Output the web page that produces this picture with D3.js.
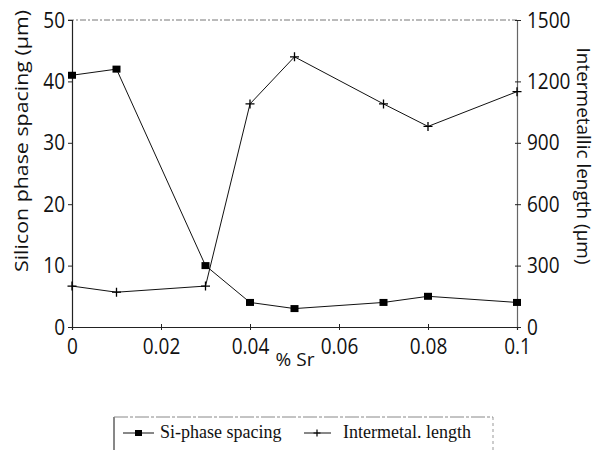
<!DOCTYPE html>
<html>
<head>
<meta charset="utf-8">
<script src="https://cdn.jsdelivr.net/npm/d3@7"></script>
<style>
  body { margin: 0; background: #fff; }
  text { fill: #111; }
</style>
</head>
<body>
<svg width="600" height="450"></svg>
<script>
// % Sr values
var sr = [0, 0.01, 0.03, 0.04, 0.05, 0.07, 0.08, 0.1];
// Silicon phase spacing (um), left axis
var siSpacing = [41, 42, 10, 4, 3, 4, 5, 4];
// Intermetallic length (um), right axis
var interLength = [200, 170, 200, 1090, 1320, 1090, 980, 1150];

var xTicks = [0, 0.02, 0.04, 0.06, 0.08, 0.1];
var xTickLabels = ["0", "0.02", "0.04", "0.06", "0.08", "0.1"];
var leftTicks = [0, 10, 20, 30, 40, 50];
var rightTicks = [0, 300, 600, 900, 1200, 1500];

var svg = d3.select("svg");
var plotL = 72, plotR = 517, plotT = 20, plotB = 327;

var x = d3.scaleLinear().domain([0, 0.1]).range([plotL, plotR]);
var yL = d3.scaleLinear().domain([0, 50]).range([plotB, plotT]);
var yR = d3.scaleLinear().domain([0, 1500]).range([plotB, plotT]);

var font = "'Open Sans', 'DejaVu Sans', sans-serif";
// the scanned figure is a bit taller than wide, so text is stretched vertically
var stretch = "scale(1,1.18)";

// top frame line (faint, dashed)
svg.append("line")
  .attr("x1", plotL - 4).attr("x2", plotR)
  .attr("y1", plotT).attr("y2", plotT)
  .attr("stroke", "#777").attr("stroke-width", 1)
  .attr("stroke-dasharray", "6,2,2,2");

// bottom axis
var gx = svg.append("g").attr("transform", "translate(0," + plotB + ")")
  .call(d3.axisBottom(x).tickValues(xTicks)
    .tickFormat(function(d, i) { return xTickLabels[i]; })
    .tickSize(3).tickPadding(6));
gx.selectAll(".tick line").attr("y1", -3).attr("y2", 3);

// left axis
var gl = svg.append("g").attr("transform", "translate(" + plotL + ",0)")
  .call(d3.axisLeft(yL).tickValues(leftTicks).tickSize(4).tickPadding(3));

// right axis
var gr = svg.append("g").attr("transform", "translate(" + plotR + ",0)")
  .call(d3.axisRight(yR).tickValues(rightTicks).tickFormat(d3.format("d"))
    .tickSize(4).tickPadding(6));
gr.selectAll(".tick line").attr("x1", -2).attr("x2", 4);

[gx, gl, gr].forEach(function(g) {
  g.select(".domain").attr("stroke", "#222").attr("stroke-width", 1.2);
  g.selectAll(".tick line").attr("stroke", "#222");
  g.selectAll("text").attr("font-family", font).attr("font-size", 19)
    .attr("fill", "#111").attr("transform", stretch);
});
gr.select(".domain").attr("stroke", "#666");

// axis titles
svg.append("text")
  .attr("transform", "translate(28,141) rotate(-90)")
  .attr("text-anchor", "middle")
  .attr("font-family", font).attr("font-size", 18)
  .attr("textLength", 262).attr("lengthAdjust", "spacingAndGlyphs")
  .text("Silicon phase spacing (\u00b5m)");

svg.append("text")
  .attr("transform", "translate(577,156) rotate(90)")
  .attr("text-anchor", "middle")
  .attr("font-family", font).attr("font-size", 18)
  .attr("textLength", 217).attr("lengthAdjust", "spacingAndGlyphs")
  .text("Intermetallic length (\u00b5m)");

svg.append("text")
  .attr("x", 295).attr("y", 366)
  .attr("text-anchor", "middle")
  .attr("font-family", font).attr("font-size", 19)
  .text("% Sr");

// series
var siData = sr.map(function(d, i) { return [d, siSpacing[i]]; });
var imData = sr.map(function(d, i) { return [d, interLength[i]]; });

svg.append("path")
  .datum(siData)
  .attr("fill", "none").attr("stroke", "#111").attr("stroke-width", 1)
  .attr("d", d3.line().x(function(d) { return x(d[0]); }).y(function(d) { return yL(d[1]); }));

svg.append("path")
  .datum(imData)
  .attr("fill", "none").attr("stroke", "#111").attr("stroke-width", 1)
  .attr("d", d3.line().x(function(d) { return x(d[0]); }).y(function(d) { return yR(d[1]); }));

svg.append("g").selectAll("rect")
  .data(siData).enter().append("rect")
  .attr("x", function(d) { return x(d[0]) - 4; })
  .attr("y", function(d) { return yL(d[1]) - 3.5; })
  .attr("width", 8).attr("height", 7)
  .attr("fill", "#000");

svg.append("g").selectAll("path")
  .data(imData).enter().append("path")
  .attr("d", "M-4.5,0H4.5M0,-4.5V4.5")
  .attr("transform", function(d) { return "translate(" + x(d[0]) + "," + yR(d[1]) + ")"; })
  .attr("stroke", "#000").attr("stroke-width", 1.3).attr("fill", "none");

// legend
var lg = svg.append("g");
lg.append("line").attr("x1", 114).attr("x2", 114).attr("y1", 417).attr("y2", 450)
  .attr("stroke", "#111");
lg.append("line").attr("x1", 114).attr("x2", 493).attr("y1", 417).attr("y2", 417)
  .attr("stroke", "#888").attr("stroke-dasharray", "14,2,3,2");
lg.append("line").attr("x1", 493).attr("x2", 493).attr("y1", 417).attr("y2", 450)
  .attr("stroke", "#999").attr("stroke-dasharray", "3,3");

var serif = "'Liberation Serif', 'DejaVu Serif', serif";
lg.append("line").attr("x1", 123).attr("x2", 154).attr("y1", 433).attr("y2", 433)
  .attr("stroke", "#111");
lg.append("rect").attr("x", 135).attr("y", 430).attr("width", 7).attr("height", 6).attr("fill", "#000");
lg.append("text").attr("x", 160).attr("y", 438)
  .attr("font-family", serif).attr("font-size", 18).text("Si-phase spacing");

lg.append("line").attr("x1", 304).attr("x2", 331).attr("y1", 433).attr("y2", 433)
  .attr("stroke", "#111");
lg.append("path").attr("d", "M-3.5,0H3.5M0,-3.5V3.5")
  .attr("transform", "translate(317,433)").attr("stroke", "#000").attr("stroke-width", 1.2);
lg.append("text").attr("x", 343).attr("y", 438)
  .attr("font-family", serif).attr("font-size", 18).text("Intermetal. length");
</script>
</body>
</html>
